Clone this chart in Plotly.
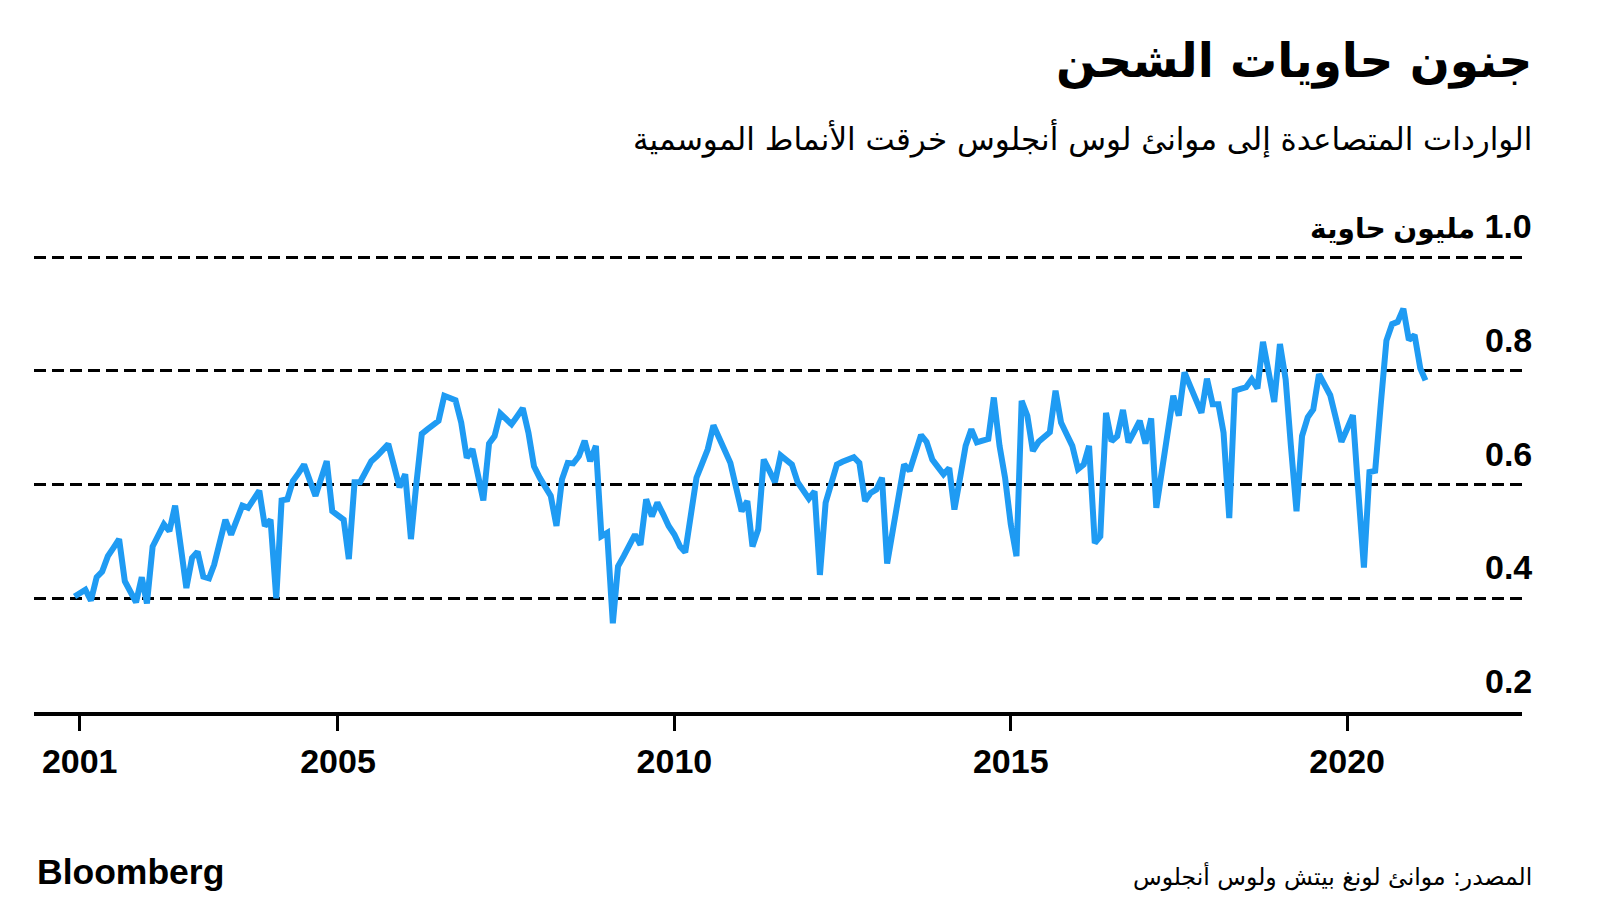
import pandas as pd
import plotly.graph_objects as go

# Monthly loaded imports, LA + Long Beach ports (million TEU), Feb 2001 - Mar 2021
start_month = "2001-02-01"
imports = [
    # 2001 (Feb-Dec)
    0.403, 0.409, 0.415, 0.396, 0.437, 0.447, 0.474, 0.489, 0.504, 0.430, 0.412,
    # 2002
    0.393, 0.437, 0.391, 0.491, 0.511, 0.530, 0.518, 0.563, 0.490, 0.418, 0.471, 0.482,
    # 2003
    0.438, 0.435, 0.459, 0.498, 0.538, 0.512, 0.538, 0.563, 0.559, 0.574, 0.589, 0.527,
    # 2004
    0.538, 0.400, 0.572, 0.574, 0.606, 0.620, 0.635, 0.607, 0.580, 0.610, 0.641, 0.553,
    # 2005
    0.545, 0.538, 0.469, 0.604, 0.604, 0.622, 0.641, 0.650, 0.660, 0.671, 0.633, 0.595,
    # 2006
    0.618, 0.504, 0.597, 0.689, 0.697, 0.704, 0.712, 0.756, 0.752, 0.748, 0.709, 0.647,
    # 2007
    0.662, 0.617, 0.572, 0.672, 0.685, 0.725, 0.716, 0.706, 0.720, 0.734, 0.691, 0.632,
    # 2008
    0.612, 0.597, 0.580, 0.527, 0.609, 0.638, 0.637, 0.650, 0.677, 0.641, 0.668, 0.509,
    # 2009
    0.515, 0.356, 0.456, 0.474, 0.493, 0.512, 0.494, 0.574, 0.544, 0.568, 0.548, 0.527,
    # 2010
    0.512, 0.491, 0.481, 0.546, 0.612, 0.637, 0.662, 0.704, 0.682, 0.660, 0.638, 0.596,
    # 2011
    0.553, 0.571, 0.491, 0.521, 0.644, 0.624, 0.604, 0.651, 0.643, 0.635, 0.604, 0.590,
    # 2012
    0.575, 0.588, 0.441, 0.568, 0.600, 0.635, 0.640, 0.644, 0.648, 0.638, 0.571, 0.585,
    # 2013
    0.591, 0.612, 0.461, 0.520, 0.578, 0.635, 0.624, 0.655, 0.687, 0.675, 0.644, 0.631,
    # 2014
    0.618, 0.629, 0.556, 0.612, 0.668, 0.697, 0.674, 0.677, 0.680, 0.753, 0.668, 0.612,
    # 2015
    0.530, 0.474, 0.747, 0.721, 0.659, 0.675, 0.683, 0.692, 0.765, 0.709, 0.688, 0.668,
    # 2016
    0.627, 0.635, 0.668, 0.497, 0.509, 0.726, 0.676, 0.685, 0.731, 0.674, 0.693, 0.712,
    # 2017
    0.672, 0.716, 0.559, 0.625, 0.690, 0.756, 0.721, 0.797, 0.773, 0.750, 0.726, 0.786,
    # 2018
    0.741, 0.741, 0.691, 0.541, 0.765, 0.768, 0.771, 0.785, 0.769, 0.851, 0.800, 0.745,
    # 2019
    0.847, 0.785, 0.670, 0.553, 0.685, 0.718, 0.732, 0.794, 0.775, 0.757, 0.716, 0.675,
    # 2020
    0.698, 0.722, 0.590, 0.454, 0.622, 0.624, 0.740, 0.853, 0.882, 0.886, 0.909, 0.854,
    # 2021 (Jan-Mar)
    0.863, 0.804, 0.783,
]
months = pd.date_range(start_month, periods=len(imports), freq="MS")

x_tick_vals = ["2001-03-01", "2005-01-01", "2010-01-01", "2015-01-01", "2020-01-01"]
x_tick_text = ["2001", "2005", "2010", "2015", "2020"]
y_tick_vals = [0.2, 0.4, 0.6, 0.8, 1.0]
y_tick_text = ["0.2", "0.4", "0.6", "0.8",
               "<span style='font-size:28px'>مليون حاوية</span> \u200e1.0"]

title_text = "جنون حاويات الشحن"
subtitle_text = "الواردات المتصاعدة إلى موانئ لوس أنجلوس خرقت الأنماط الموسمية"
source_text = "المصدر: موانئ لونغ بيتش ولوس أنجلوس"
brand_text = "Bloomberg"

LATIN = "Liberation Sans, Arial, DejaVu Sans, sans-serif"
ARABIC = "DejaVu Sans, sans-serif"

fig = go.Figure()
fig.add_trace(go.Scatter(
    x=months, y=imports, mode="lines",
    line=dict(color="#1f9bf3", width=6),
    hoverinfo="skip", showlegend=False,
))

fig.update_layout(
    width=1600, height=902,
    margin=dict(l=34, r=78, t=255, b=190),
    paper_bgcolor="white", plot_bgcolor="white",
    showlegend=False,
    xaxis=dict(
        type="date",
        range=["2000-06-26", "2022-08-07"],
        tickvals=x_tick_vals, ticktext=x_tick_text,
        showgrid=False, zeroline=False, automargin=False,
        showline=True, linecolor="black", linewidth=3.5,
        ticks="outside", ticklen=15, tickwidth=2.5, tickcolor="black",
        tickfont=dict(family=LATIN, size=34, color="black", weight="bold"),
        ticklabelstandoff=1,
    ),
    yaxis=dict(
        range=[0.2, 1.00352],
        side="right",
        tickvals=y_tick_vals,
        showticklabels=False,
        showgrid=True, gridcolor="black", gridwidth=3, griddash="12px,6px",
        zeroline=False, showline=False, ticks="", automargin=False,
    ),
)

# y tick labels sit above their gridlines, right-aligned at the chart's right edge
for v, t in zip(y_tick_vals, y_tick_text):
    fig.add_annotation(
        text=t, xref="paper", x=1.008, yref="y", y=v,
        xanchor="right", yanchor="middle", yshift=31, showarrow=False,
        font=dict(family=LATIN, size=34, color="black", weight="bold"),
    )

ann = [
    dict(text=title_text, x=1.008, y=1.4245, font=dict(family=ARABIC, size=47, color="black", weight="bold")),
    dict(text=subtitle_text, x=1.008, y=1.254, font=dict(family=ARABIC, size=31, color="black")),
    dict(text=source_text, x=1.008, y=-0.359, font=dict(family=ARABIC, size=23.5, color="black")),
]
for a in ann:
    fig.add_annotation(xref="paper", yref="paper", xanchor="right", yanchor="middle",
                       showarrow=False, **a)
fig.add_annotation(text=brand_text, xref="paper", yref="paper", x=0.0007, y=-0.350,
                   xanchor="left", yanchor="middle", showarrow=False,
                   font=dict(family=LATIN, size=35.5, color="black", weight="bold"))

fig.write_html(
    "out.html",
    config={"displayModeBar": False},
    post_script="document.body.style.margin='0px';document.body.style.overflow='hidden';",
)
